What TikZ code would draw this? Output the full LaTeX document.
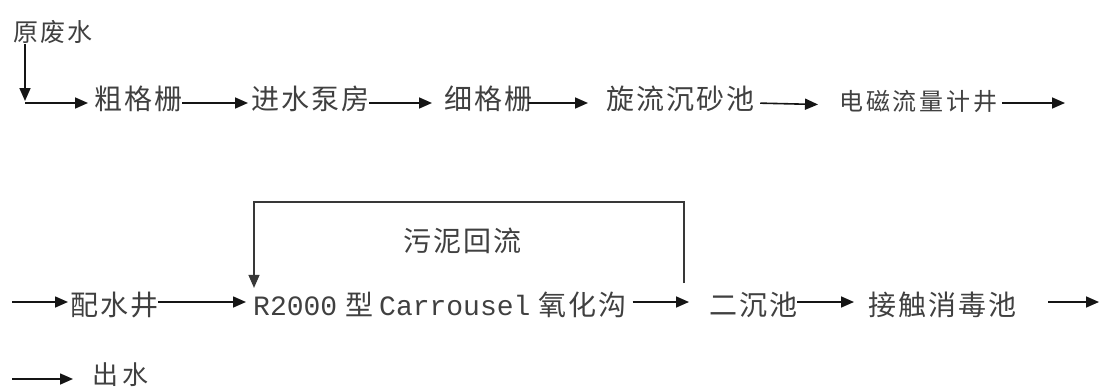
\documentclass[tikz,border=0pt]{standalone}
\usepackage{fontspec}
\usetikzlibrary{arrows.meta}
\newfontfamily\cjkA[LetterSpace=7]{Noto Sans CJK SC}
\newfontfamily\cjkB[LetterSpace=12]{Noto Sans CJK SC}
\newfontfamily\cjkC[LetterSpace=8]{Noto Sans CJK SC}
\newfontfamily\cjkD[LetterSpace=18]{Noto Sans CJK SC}
\newfontfamily\latmono{Liberation Mono}
\definecolor{txt}{HTML}{404040}
\definecolor{ln}{HTML}{151515}
\begin{document}
\begin{tikzpicture}[x=1pt,y=-1pt,
  lbl/.style={anchor=west,inner sep=0pt,text=txt,font=\fontsize{28}{30}\selectfont\cjkA},
  lblsm/.style={lbl,font=\fontsize{24}{26}\selectfont\cjkB},
  lblsrc/.style={lbl,font=\fontsize{25}{28}\selectfont\cjkC},
  lblout/.style={lbl,font=\fontsize{26}{28}\selectfont\cjkD},
  arr/.style={draw=ln,line width=1.6pt,-{Triangle[length=13pt,width=11pt]}},
  fbarr/.style={draw=ln!85,line width=1.3pt,-{Triangle[length=13pt,width=11pt]}}]
\useasboundingbox[fill=white] (0,0) rectangle (1099,388);

% row 1
\node[lblsrc] (src) at (13,32) {原废水};
\node[lbl] (n1) at (94,99) {粗格栅};
\node[lbl] (n2) at (251,99) {进水泵房};
\node[lbl] (n3) at (444,99) {细格栅};
\node[lbl] (n4) at (606,99) {旋流沉砂池};
\node[lblsm] (n5) at (839,101) {电磁流量计井};
\coordinate (c0) at (25,103);
\coordinate (e1) at (1065,103);

\draw[arr] ([xshift=12pt]src.south west) -- ([yshift=2pt]c0);
\draw[arr,shorten >=6pt] (c0) -- ([yshift=-4pt]n1.west);
\draw[arr,shorten >=3pt] ([yshift=-4pt]n1.east) -- ([yshift=-4pt]n2.west);
\draw[arr,shorten >=12pt] ([yshift=-4pt]n2.east) -- ([yshift=-4pt]n3.west);
\draw[arr,shorten <=-4pt,shorten >=18pt] ([yshift=-4pt]n3.east) -- ([yshift=-4pt]n4.west);
\draw[arr,shorten <=6pt,shorten >=21pt] ([yshift=-4pt]n4.east) -- ([yshift=-4pt]n5.west);
\draw[arr,shorten <=4pt] ([yshift=-2pt]n5.east) -- (e1);

% row 2
\coordinate (s2) at (12,302);
\node[lbl] (m1) at (70,305) {配水井};
\node[lbl] (m2) at (253,305) {{\latmono R2000}\hspace{8pt}型\hspace{6pt}{\latmono Carrousel}\hspace{8pt}氧化沟};
\node[lbl] (m3) at (709,305) {二沉池};
\node[lbl] (m4) at (868,305) {接触消毒池};
\node[lbl] (fbl) at (403,241) {污泥回流};
\coordinate (e2) at (1099,302);
\coordinate (fbs) at (684,283);

\draw[arr,shorten >=2pt] (s2) -- ([yshift=3pt]m1.west);
\draw[arr,shorten >=7pt] ([yshift=3pt]m1.east) -- ([yshift=3pt]m2.west);
\draw[arr,shorten <=6pt,shorten >=20pt] ([yshift=3pt]m2.east) -- ([yshift=3pt]m3.west);
\draw[arr,shorten >=14pt] ([yshift=3pt]m3.east) -- ([yshift=3pt]m4.west);
\draw[arr,shorten <=32pt] ([yshift=3pt]m4.east) -- (e2);
\draw[fbarr] (fbs) -- ++(0,-81) -| ([xshift=1pt,yshift=4pt]m2.north west);

% row 3
\coordinate (s3) at (12,379);
\node[lblout] (out) at (92,375) {出水};
\draw[arr,shorten >=19pt] (s3) -- ([yshift=-4pt]out.west);
\end{tikzpicture}
\end{document}
